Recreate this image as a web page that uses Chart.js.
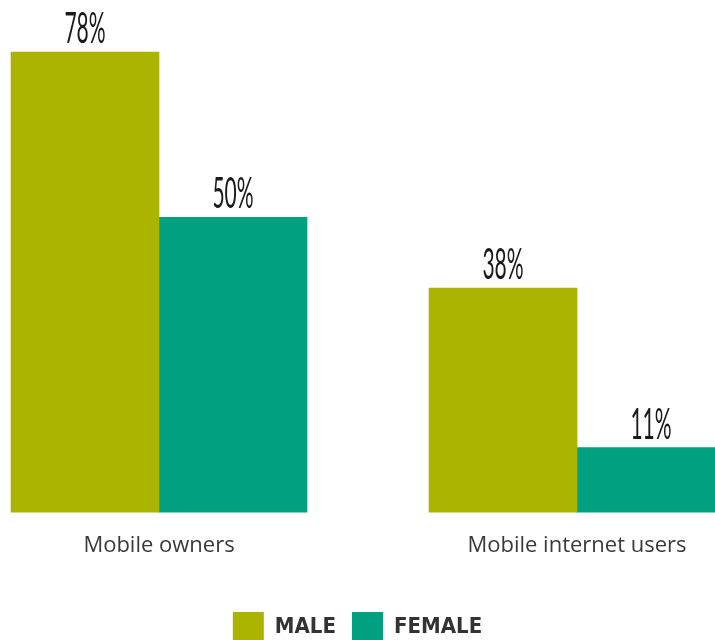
<!DOCTYPE html>
<html>
<head>
<meta charset="utf-8">
<script src="https://cdn.jsdelivr.net/npm/chart.js@4"></script>
<style>
  html, body { margin: 0; padding: 0; background: #fff; overflow: hidden; }
  #wrap { width: 715px; height: 653px; }
</style>
</head>
<body>
<div id="wrap"><canvas id="myChart" width="715" height="653"></canvas></div>
<script>
// Share of men and women owning a mobile / using mobile internet (%)
const categories = ['Mobile owners', 'Mobile internet users'];
const maleValues = [78, 38];
const femaleValues = [50, 11];
const seriesNames = ['MALE', 'FEMALE'];

const MALE_COLOR = '#abb400';
const FEMALE_COLOR = '#00a080';

// Turn a value list into {x, y} points on the numeric x axis
function toPoints(values) {
    return values.map((v, i) => ({ x: i, y: v }));
}

// Draws the "78%" style labels above each bar in a narrow face
const valueLabels = {
    id: 'valueLabels',
    afterDatasetsDraw(chart) {
        const ctx = chart.ctx;
        ctx.save();
        ctx.font = '400 42px Lato, "Liberation Sans", sans-serif';
        ctx.fillStyle = '#1a1a1a';
        ctx.textAlign = 'center';
        ctx.textBaseline = 'alphabetic';
        chart.data.datasets.forEach((ds, di) => {
            const meta = chart.getDatasetMeta(di);
            meta.data.forEach((bar, i) => {
                const text = ds.data[i].y + '%';
                ctx.save();
                ctx.translate(bar.x, bar.y - 9);
                ctx.scale(0.5, 1);
                ctx.fillText(text, 0, 0);
                ctx.restore();
            });
        });
        ctx.restore();
    }
};

const ctx = document.getElementById('myChart').getContext('2d');
const myChart = new Chart(ctx, {
    type: 'bar',
    data: {
        datasets: [{
            label: seriesNames[0],
            data: toPoints(maleValues),
            backgroundColor: MALE_COLOR,
            borderWidth: 0
        }, {
            label: seriesNames[1],
            data: toPoints(femaleValues),
            backgroundColor: FEMALE_COLOR,
            borderWidth: 0
        }]
    },
    options: {
        responsive: false,
        animation: false,
        barThickness: 148,
        layout: { padding: 0 },
        scales: {
            x: {
                type: 'linear',
                offset: false,
                min: -0.3804,
                max: 1.3301,
                grid: { display: false, offset: false },
                border: { display: false },
                afterBuildTicks: (scale) => {
                    scale.ticks = categories.map((c, i) => ({ value: i }));
                },
                afterFit: (scale) => {
                    scale.height += 25;
                },
                ticks: {
                    autoSkip: false,
                    maxRotation: 0,
                    padding: 12,
                    color: '#3a3a3a',
                    font: { family: '"Open Sans", Lato, sans-serif', size: 22 },
                    callback: (v) => categories[v]
                }
            },
            y: {
                display: false,
                min: 0,
                max: 86.8
            }
        },
        plugins: {
            tooltip: { enabled: false },
            legend: {
                position: 'bottom',
                labels: {
                    boxWidth: 31,
                    boxHeight: 31,
                    padding: 16,
                    color: '#333333',
                    font: {
                        family: '"Liberation Sans Narrow", "DejaVu Sans Condensed", Roboto, sans-serif',
                        size: 22,
                        weight: 'bold'
                    }
                }
            }
        }
    },
    plugins: [valueLabels]
});
</script>
</body>
</html>
